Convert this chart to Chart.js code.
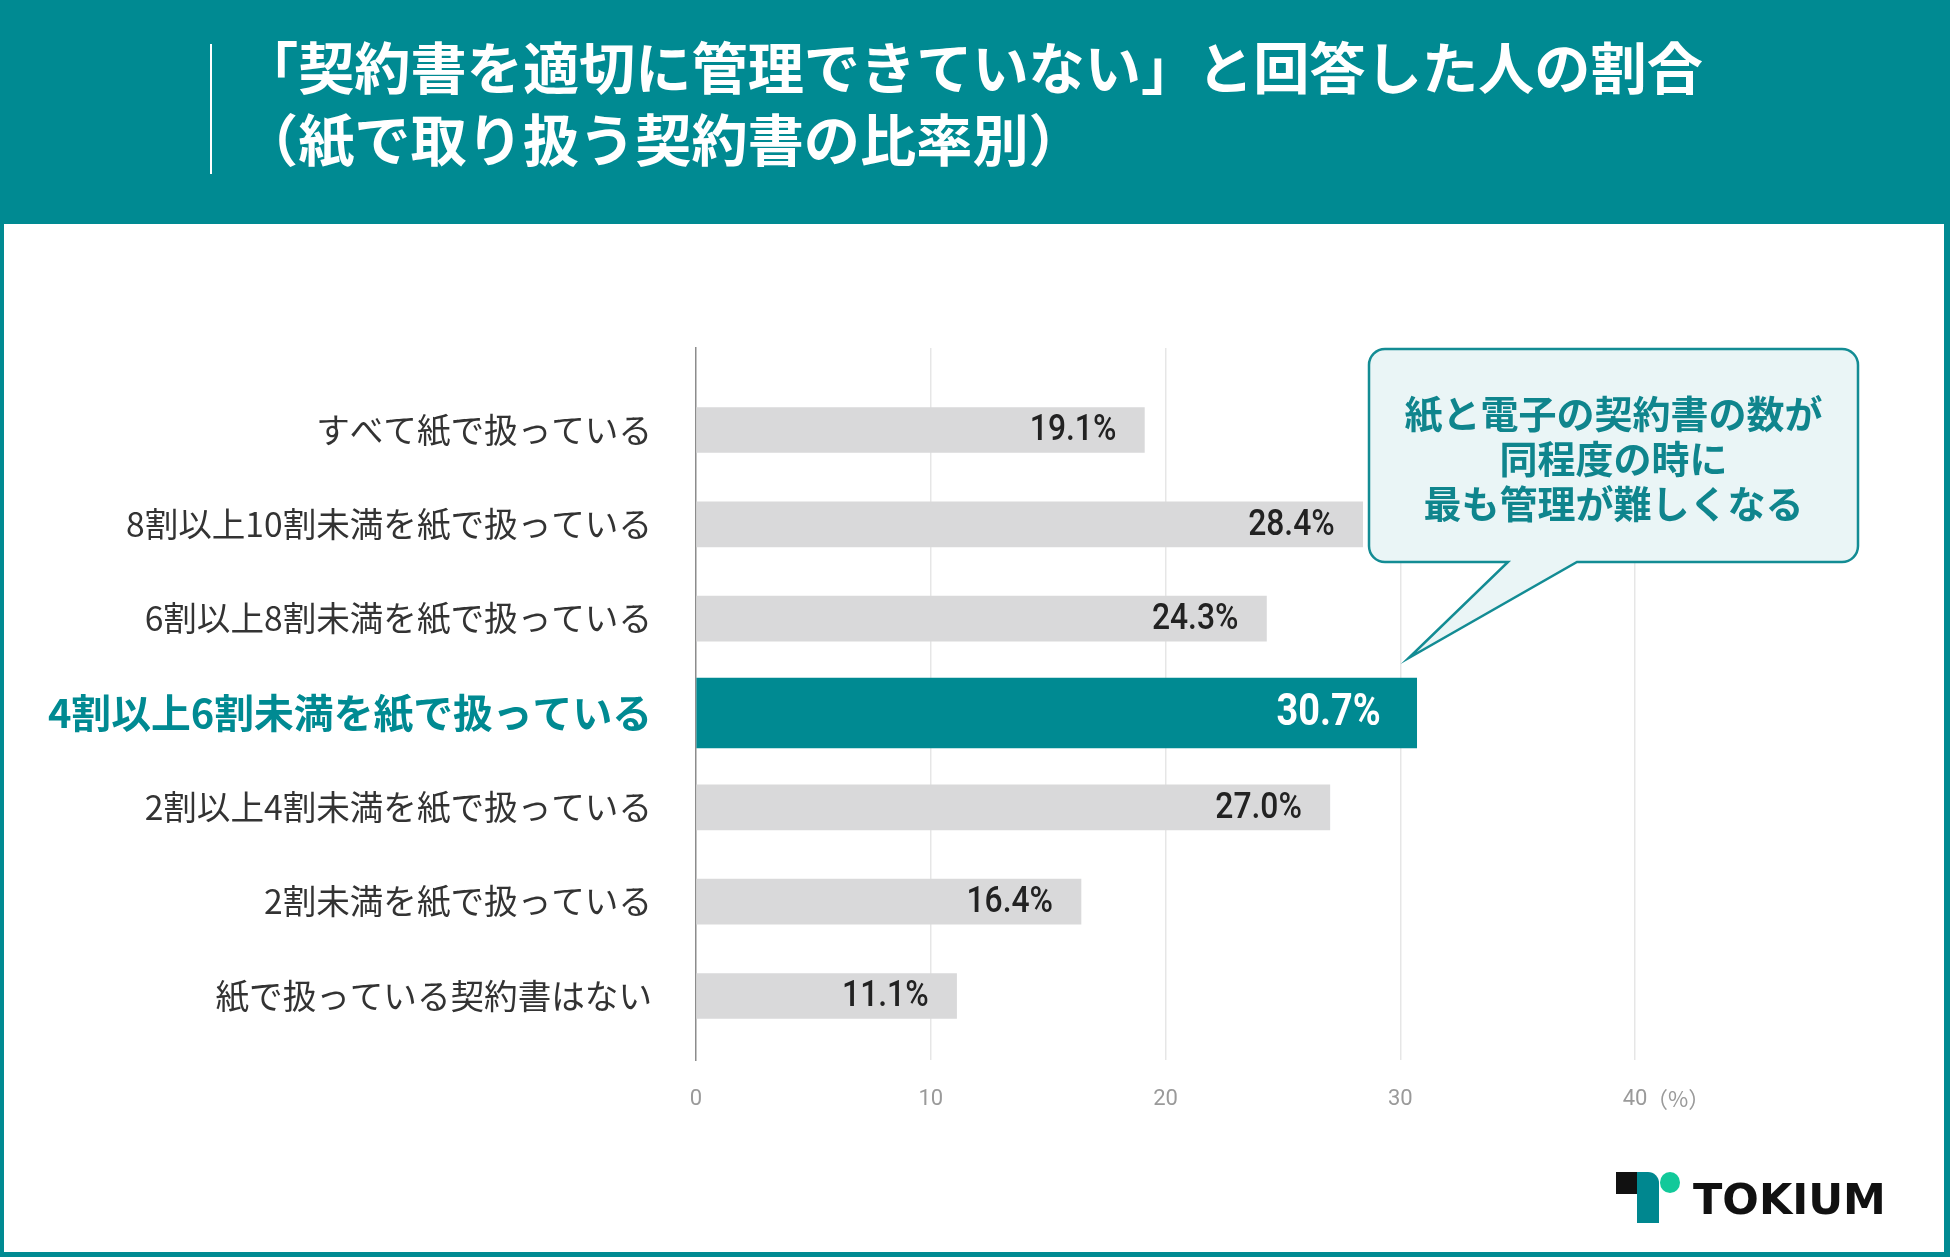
<!DOCTYPE html>
<html>
<head>
<meta charset="utf-8">
<script src="https://cdn.jsdelivr.net/npm/chart.js@4.4.1/dist/chart.umd.min.js"></script>
<style>
  body { margin: 0; }
  #page { position: relative; width: 1950px; height: 1257px; background: #008a92; overflow: hidden; }
  #panel { position: absolute; left: 4px; top: 224px; width: 1940px; height: 1028px; background: #fff; }
  #rule { position: absolute; left: 210px; top: 44px; width: 2px; height: 130px; background: #fff; }
  #title { position: absolute; left: 242px; top: 29px; color: #fff; font: bold 56.2px/72px "Noto Sans CJK JP", sans-serif; white-space: nowrap; }
  #chart { position: absolute; left: 0; top: 0; }
  .logo { position: absolute; }
  #logoText { left: 1693px; top: 1178px; font: bold 43px/43px "DejaVu Sans", sans-serif; color: #111; }
</style>
</head>
<body>
<div id="page">
  <div id="panel"></div>
  <div id="rule"></div>
  <div id="title">「契約書を適切に管理できていない」と回答した人の割合<br>（紙で取り扱う契約書の比率別）</div>
  <canvas id="chart" width="1950" height="1257"></canvas>
  <div class="logo" style="left:1616px;top:1172px;width:22px;height:22px;background:#111"></div>
  <div class="logo" style="left:1637px;top:1172px;width:22px;height:51px;background:#00878f;border-top-right-radius:11px"></div>
  <div class="logo" style="left:1660px;top:1172px;width:20px;height:21px;border-radius:50%;background:#12c99a"></div>
  <div class="logo" id="logoText">TOKIUM</div>
</div>
<script>
// chart data
const categories = [
  "すべて紙で扱っている",
  "8割以上10割未満を紙で扱っている",
  "6割以上8割未満を紙で扱っている",
  "4割以上6割未満を紙で扱っている",
  "2割以上4割未満を紙で扱っている",
  "2割未満を紙で扱っている",
  "紙で扱っている契約書はない"
];
const values = [19.1, 28.4, 24.3, 30.7, 27.0, 16.4, 11.1];
const highlightIndex = 3;
const xTicks = [0, 10, 20, 30, 40];
const unitLabel = "（%）";
const calloutLines = ["紙と電子の契約書の数が", "同程度の時に", "最も管理が難しくなる"];

const TEAL = "#008a92";
const GRAY_BAR = "#d9d9da";

const grayData = values.map((v, i) => ({ x: v, y: i })).filter(d => d.y !== highlightIndex);
const tealData = [{ x: values[highlightIndex], y: highlightIndex }];

// value labels inside the bar ends (narrowed a bit to look condensed)
const valueLabelPlugin = {
  id: "valueLabels",
  afterDatasetsDraw(chart) {
    const { ctx } = chart;
    chart.data.datasets.forEach((ds, di) => {
      const meta = chart.getDatasetMeta(di);
      meta.data.forEach((el, j) => {
        const hi = ds.data[j].y === highlightIndex;
        ctx.save();
        ctx.textAlign = "right";
        ctx.textBaseline = "middle";
        ctx.font = hi ? "bold 44px Roboto" : "500 37px Roboto";
        ctx.fillStyle = hi ? "#fff" : "#222";
        ctx.translate(el.x - (hi ? 36 : 28), el.y + 1);
        ctx.scale(0.86, 1);
        ctx.fillText(ds.data[j].x.toFixed(1) + "%", 0, 0);
        ctx.restore();
      });
    });
  }
};

// "(%)" after the last x tick
const unitPlugin = {
  id: "unitLabel",
  afterDraw(chart) {
    const { ctx, scales } = chart;
    const x = scales.x.getPixelForValue(xTicks[xTicks.length - 1]);
    ctx.save();
    ctx.font = "22px 'Noto Sans CJK JP'";
    ctx.fillStyle = "#9a9a9a";
    ctx.textAlign = "left";
    ctx.textBaseline = "middle";
    ctx.fillText(unitLabel, x + 11, 1099);
    ctx.restore();
  }
};

// speech bubble pointing at the highlighted bar
const calloutPlugin = {
  id: "callout",
  afterDraw(chart) {
    const { ctx } = chart;
    const bar = chart.getDatasetMeta(1).data[0];
    if (!bar) return;
    const tipX = bar.x - 8, tipY = bar.y - bar.height / 2 - 20;
    const L = 1369, R = 1858, T = 349, B = 562, r = 16;
    const baseL = 1508, baseR = 1577;
    ctx.save();
    ctx.beginPath();
    ctx.moveTo(L + r, T);
    ctx.lineTo(R - r, T);
    ctx.arcTo(R, T, R, T + r, r);
    ctx.lineTo(R, B - r);
    ctx.arcTo(R, B, R - r, B, r);
    ctx.lineTo(baseR, B);
    ctx.lineTo(tipX, tipY);
    ctx.lineTo(baseL, B);
    ctx.lineTo(L + r, B);
    ctx.arcTo(L, B, L, B - r, r);
    ctx.lineTo(L, T + r);
    ctx.arcTo(L, T, L + r, T, r);
    ctx.closePath();
    ctx.fillStyle = "#eaf5f6";
    ctx.fill();
    ctx.lineWidth = 2.5;
    ctx.strokeStyle = "#138c94";
    ctx.stroke();
    ctx.font = "bold 38px 'Noto Sans CJK JP'";
    ctx.fillStyle = "#0f858d";
    ctx.textAlign = "center";
    ctx.textBaseline = "middle";
    calloutLines.forEach((t, i) => ctx.fillText(t, (L + R) / 2, 414 + i * 45));
    ctx.restore();
  }
};

Chart.defaults.font.family = "'Noto Sans CJK JP', sans-serif";

new Chart(document.getElementById("chart"), {
  type: "bar",
  data: {
    datasets: [
      { data: grayData, backgroundColor: GRAY_BAR, barThickness: 45, grouped: false },
      { data: tealData, backgroundColor: TEAL, barThickness: 70, grouped: false }
    ]
  },
  options: {
    indexAxis: "y",
    responsive: false,
    animation: false,
    devicePixelRatio: 1,
    layout: { padding: { top: 348, right: 315, bottom: 0, left: 0 } },
    plugins: { legend: { display: false }, tooltip: { enabled: false } },
    scales: {
      x: {
        type: "linear",
        min: 0,
        max: 40,
        z: 1,
        afterFit: s => { s.height = 197; },
        afterBuildTicks: s => { s.ticks = xTicks.map(v => ({ value: v })); },
        border: { display: false },
        grid: {
          drawTicks: false,
          lineWidth: 1.5,
          color: c => (c.tick && c.tick.value === 0 ? "transparent" : "rgba(190,190,190,0.38)")
        },
        ticks: { padding: 26, color: "#9a9a9a", font: { family: "Roboto", size: 22 } }
      },
      y: {
        type: "linear",
        reverse: true,
        offset: false,
        min: -0.869,
        max: 6.678,
        z: 1,
        afterFit: s => { s.width = 696; },
        afterBuildTicks: s => { s.ticks = categories.map((c, i) => ({ value: i })); },
        border: { display: true, color: "#8c8c8c", width: 1.5 },
        grid: { drawTicks: false, offset: false, color: "transparent" },
        ticks: {
          padding: 44,
          callback: v => categories[v] ?? "",
          color: c => (c.tick && c.tick.value === highlightIndex ? TEAL : "#333"),
          font: c => (c.tick && c.tick.value === highlightIndex
            ? { size: 39.8, weight: "bold" }
            : { size: 33.6 })
        }
      }
    }
  },
  plugins: [valueLabelPlugin, unitPlugin, calloutPlugin]
});
</script>
</body>
</html>
